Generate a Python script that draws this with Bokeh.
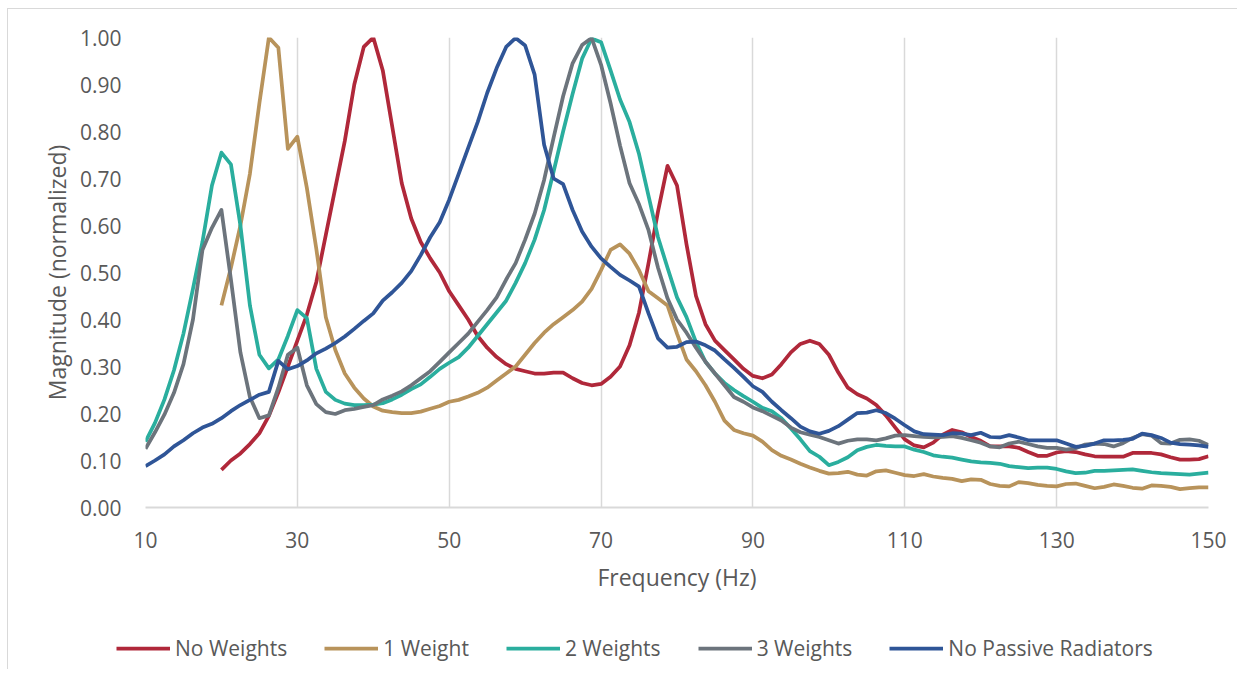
from bokeh.plotting import figure
from bokeh.layouts import column
from bokeh.models import Range1d, FixedTicker, PrintfTickFormatter, Legend, LegendItem
from bokeh.embed import file_html
from bokeh.resources import INLINE

# Sample grid (Hz), 1.25 Hz spacing from 10 to 150
freq = [round(10 + 1.25 * i, 2) for i in range(113)]
freq_from20 = freq[8:]

# Series values (normalized magnitude)
no_weights = [0.08, 0.10, 0.115, 0.135, 0.158, 0.195, 0.245, 0.30, 0.355, 0.41,
              0.48, 0.58, 0.68, 0.78, 0.90, 0.98, 1.0, 0.93, 0.81, 0.69,
              0.615, 0.565, 0.53, 0.50, 0.46, 0.43, 0.40, 0.365, 0.34, 0.32,
              0.305, 0.295, 0.29, 0.285, 0.285, 0.287, 0.287, 0.275, 0.265, 0.26,
              0.263, 0.278, 0.30, 0.345, 0.415, 0.52, 0.63, 0.727, 0.685, 0.56,
              0.45, 0.39, 0.355, 0.335, 0.315, 0.295, 0.28, 0.275, 0.283, 0.305,
              0.33, 0.348, 0.355, 0.348, 0.325, 0.287, 0.255, 0.241, 0.232, 0.218,
              0.196, 0.17, 0.145, 0.132, 0.128, 0.138, 0.155, 0.165, 0.16, 0.15,
              0.142, 0.13, 0.13, 0.13, 0.127, 0.118, 0.11, 0.11, 0.117, 0.12,
              0.118, 0.113, 0.109, 0.108, 0.108, 0.108, 0.116, 0.116, 0.116, 0.113,
              0.107, 0.102, 0.102, 0.103, 0.109]

one_weight = [0.43, 0.51, 0.60, 0.71, 0.86, 1.0, 0.978, 0.763, 0.789, 0.68,
              0.55, 0.405, 0.335, 0.285, 0.255, 0.232, 0.215, 0.206, 0.203, 0.201,
              0.201, 0.204, 0.21, 0.216, 0.225, 0.229, 0.236, 0.244, 0.255, 0.27,
              0.285, 0.30, 0.325, 0.35, 0.372, 0.39, 0.405, 0.42, 0.438, 0.465,
              0.505, 0.548, 0.56, 0.54, 0.505, 0.46, 0.445, 0.43, 0.37, 0.315,
              0.29, 0.26, 0.225, 0.185, 0.165, 0.158, 0.153, 0.14, 0.122, 0.11,
              0.102, 0.093, 0.085, 0.078, 0.072, 0.073, 0.076, 0.07, 0.068, 0.077,
              0.079, 0.074, 0.069, 0.067, 0.071, 0.066, 0.063, 0.061, 0.056, 0.06,
              0.059, 0.05, 0.046, 0.045, 0.054, 0.052, 0.048, 0.046, 0.045, 0.05,
              0.051, 0.046, 0.041, 0.044, 0.049, 0.046, 0.042, 0.04, 0.047, 0.046,
              0.044, 0.039, 0.041, 0.043, 0.043]

two_weights = [0.14, 0.18, 0.23, 0.292, 0.37, 0.465, 0.565, 0.685, 0.755, 0.73,
               0.60, 0.43, 0.325, 0.296, 0.315, 0.365, 0.42, 0.403, 0.295, 0.246,
               0.229, 0.221, 0.218, 0.218, 0.219, 0.222, 0.23, 0.24, 0.252, 0.262,
               0.278, 0.295, 0.308, 0.32, 0.34, 0.365, 0.39, 0.415, 0.44, 0.478,
               0.52, 0.57, 0.633, 0.715, 0.80, 0.88, 0.955, 0.998, 0.99, 0.93,
               0.868, 0.82, 0.752, 0.663, 0.575, 0.51, 0.447, 0.405, 0.352, 0.31,
               0.285, 0.265, 0.25, 0.237, 0.225, 0.212, 0.205, 0.19, 0.168, 0.145,
               0.12, 0.108, 0.09, 0.097, 0.107, 0.122, 0.129, 0.133, 0.131, 0.13,
               0.13, 0.123, 0.118, 0.111, 0.108, 0.106, 0.102, 0.098, 0.096, 0.095,
               0.093, 0.088, 0.086, 0.084, 0.085, 0.085, 0.082, 0.077, 0.073, 0.074,
               0.078, 0.078, 0.079, 0.08, 0.081, 0.078, 0.075, 0.073, 0.072, 0.071,
               0.07, 0.072, 0.074]

three_weights = [0.125, 0.16, 0.198, 0.244, 0.305, 0.40, 0.548, 0.595, 0.633, 0.485,
                 0.33, 0.235, 0.19, 0.196, 0.255, 0.325, 0.34, 0.26, 0.22, 0.203,
                 0.199, 0.207, 0.21, 0.214, 0.218, 0.23, 0.238, 0.247, 0.26, 0.275,
                 0.29, 0.31, 0.33, 0.35, 0.37, 0.395, 0.42, 0.447, 0.485, 0.52,
                 0.57, 0.625, 0.697, 0.787, 0.875, 0.945, 0.984, 0.999, 0.942, 0.86,
                 0.77, 0.69, 0.645, 0.59, 0.51, 0.445, 0.40, 0.372, 0.34, 0.31,
                 0.285, 0.26, 0.235, 0.225, 0.213, 0.205, 0.195, 0.185, 0.17, 0.16,
                 0.155, 0.15, 0.143, 0.136, 0.142, 0.145, 0.145, 0.143, 0.147, 0.153,
                 0.154, 0.152, 0.15, 0.149, 0.15, 0.152, 0.148, 0.143, 0.138, 0.13,
                 0.128, 0.136, 0.14, 0.135, 0.13, 0.127, 0.127, 0.123, 0.126, 0.134,
                 0.136, 0.135, 0.13, 0.137, 0.148, 0.156, 0.153, 0.137, 0.136, 0.144,
                 0.145, 0.142, 0.133]

no_passive = [0.088, 0.1, 0.113, 0.13, 0.143, 0.158, 0.17, 0.178, 0.19, 0.205,
              0.218, 0.229, 0.24, 0.246, 0.312, 0.294, 0.301, 0.313, 0.328, 0.338,
              0.35, 0.364, 0.38, 0.397, 0.413, 0.44, 0.458, 0.478, 0.503, 0.537,
              0.575, 0.607, 0.655, 0.71, 0.765, 0.82, 0.882, 0.935, 0.98, 0.999,
              0.983, 0.921, 0.772, 0.70, 0.688, 0.633, 0.587, 0.555, 0.53, 0.512,
              0.495, 0.483, 0.47, 0.413, 0.36, 0.34, 0.342, 0.352, 0.353, 0.345,
              0.334, 0.315, 0.297, 0.278, 0.258, 0.246, 0.225, 0.207, 0.19, 0.172,
              0.162, 0.157, 0.163, 0.173, 0.187, 0.201, 0.202, 0.207, 0.201, 0.189,
              0.175, 0.162, 0.156, 0.155, 0.154, 0.158, 0.157, 0.154, 0.159, 0.15,
              0.149, 0.154, 0.149, 0.143, 0.143, 0.143, 0.143, 0.136, 0.129, 0.131,
              0.136, 0.143, 0.143, 0.144, 0.146, 0.157, 0.154, 0.148, 0.138, 0.135,
              0.134, 0.132, 0.129]

x_ticks = [10, 30, 50, 70, 90, 110, 130, 150]
y_ticks = [0.0, 0.1, 0.2, 0.3, 0.4, 0.5, 0.6, 0.7, 0.8, 0.9, 1.0]
series_names = ["No Weights", "1 Weight", "2 Weights", "3 Weights", "No Passive Radiators"]
series_colors = ["#B0283A", "#B8935B", "#2AAE9E", "#6C747C", "#2F5597"]

FONT = "Open Sans"
TXT = "#595959"
GRID = "#D9D9D9"
LW = 3.75

xs_list = [freq_from20, freq_from20, freq, freq, freq]
ys_list = [no_weights, one_weight, two_weights, three_weights, no_passive]

# ---- main chart ----
p = figure(width=1237, height=600, output_backend="svg", toolbar_location=None,
           x_range=Range1d(10, 150), y_range=Range1d(0, 1),
           min_border_left=145, min_border_right=29, min_border_top=37,
           min_border_bottom=93)
p.frame_align = False
p.outline_line_color = None
p.background_fill_color = "white"
p.border_fill_color = None

for xs, ys, c in zip(xs_list, ys_list, series_colors):
    p.line(xs, ys, line_color=c, line_width=LW, line_join="round")

p.xgrid.ticker = FixedTicker(ticks=x_ticks)
p.xgrid.grid_line_color = GRID
p.xgrid.grid_line_width = 1.5
p.ygrid.grid_line_color = None

xa = p.xaxis[0]
xa.ticker = FixedTicker(ticks=x_ticks)
xa.axis_line_color = GRID
xa.axis_line_width = 2
xa.major_tick_line_color = None
xa.minor_tick_line_color = None
xa.major_label_text_font = FONT
xa.major_label_text_font_size = "21px"
xa.major_label_text_color = TXT
xa.major_label_standoff = 18
xa.axis_label = "Frequency (Hz)"
xa.axis_label_text_font = FONT
xa.axis_label_text_font_size = "23px"
xa.axis_label_text_font_style = "normal"
xa.axis_label_text_color = TXT
xa.axis_label_standoff = 10

ya = p.yaxis[0]
ya.ticker = FixedTicker(ticks=y_ticks)
ya.formatter = PrintfTickFormatter(format="%.2f")
ya.axis_line_color = None
ya.major_tick_line_color = None
ya.minor_tick_line_color = None
ya.major_label_text_font = FONT
ya.major_label_text_font_size = "21px"
ya.major_label_text_color = TXT
ya.major_label_standoff = 18
ya.axis_label = "Magnitude (normalized)"
ya.axis_label_text_font = FONT
ya.axis_label_text_font_size = "23px"
ya.axis_label_text_font_style = "normal"
ya.axis_label_text_color = TXT
ya.axis_label_standoff = 4

# ---- legend strip (same series, drawn outside its visible range) ----
lg = figure(width=1237, height=69, output_backend="svg", toolbar_location=None,
            x_axis_location=None, y_axis_location=None,
            x_range=Range1d(-2, -1), y_range=Range1d(-2, -1),
            min_border_left=0, min_border_right=0, min_border_top=0,
            min_border_bottom=0)
lg.frame_align = False
lg.outline_line_color = None
lg.background_fill_color = None
lg.border_fill_color = None
lg.grid.visible = False

items = []
for n, xs, ys, c in zip(series_names, xs_list, ys_list, series_colors):
    r = lg.line(xs, ys, line_color=c, line_width=LW)
    items.append(LegendItem(label=n, renderers=[r]))
legend = Legend(items=items, orientation="horizontal", location=(116, 6),
                glyph_width=54, glyph_height=30, label_height=30,
                label_standoff=5, spacing=37,
                padding=0, margin=0, border_line_color=None, background_fill_alpha=0,
                label_text_font=FONT, label_text_font_size="21px",
                label_text_color=TXT)
lg.add_layout(legend, "center")

layout = column(p, lg, spacing=0)
layout.styles = {"box-shadow": "inset 7px 8px 0 0 white, inset 8px 9px 0 0 #D9D9D9"}

open("out.html", "w").write(file_html(layout, INLINE))
